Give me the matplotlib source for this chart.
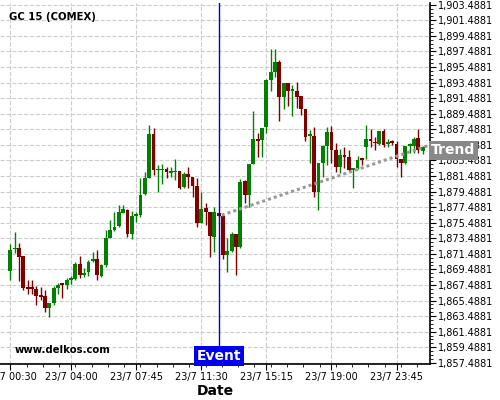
import numpy as np
import matplotlib
matplotlib.use("Agg")
import matplotlib.pyplot as plt
from matplotlib.ticker import FixedLocator, MultipleLocator, FuncFormatter

# 15 minute candles, GC 15 (COMEX)
opens = [1869.29, 1872.08, 1872.21, 1871.18, 1867.19, 1867.10, 1866.94, 1866.07, 1866.03, 1864.53,
         1865.17, 1867.10, 1867.58, 1867.45, 1868.13, 1868.26, 1870.24, 1868.78, 1869.12, 1870.58,
         1870.80, 1868.65, 1869.99, 1873.54, 1874.53, 1875.04, 1876.76, 1877.10, 1874.05, 1876.37,
         1876.46, 1879.16, 1881.26, 1886.88, 1882.21, 1882.21, 1882.38, 1881.90, 1881.99, 1882.12,
         1880.10, 1881.74, 1881.39, 1880.19, 1875.47, 1877.36, 1876.81, 1873.67, 1876.68, 1876.33,
         1871.31, 1871.86, 1874.01, 1872.38, 1880.84, 1879.03, 1883.02, 1886.20, 1886.11, 1887.82,
         1893.83, 1894.90, 1896.11, 1891.68, 1893.49, 1892.42, 1892.42, 1891.78, 1890.10, 1886.63,
         1886.63, 1879.46, 1883.19, 1885.34, 1887.10, 1884.82, 1882.60, 1884.18, 1883.96, 1882.25,
         1882.47, 1883.71, 1885.17, 1886.24, 1885.85, 1885.60, 1887.27, 1885.56, 1885.98, 1885.60,
         1883.63, 1883.11, 1885.34, 1885.34, 1886.37, 1884.73]
highs = [1872.69, 1874.23, 1872.89, 1871.18, 1868.09, 1868.18, 1867.32, 1867.23, 1866.90, 1865.17,
         1867.32, 1867.75, 1867.67, 1868.39, 1868.61, 1870.45, 1871.27, 1869.73, 1870.67, 1871.74,
         1871.95, 1870.24, 1874.53, 1875.82, 1876.85, 1877.75, 1877.75, 1877.19, 1877.01, 1876.88,
         1881.18, 1882.03, 1888.04, 1887.62, 1882.89, 1883.02, 1882.68, 1882.60, 1883.63, 1882.12,
         1882.03, 1882.68, 1881.39, 1881.18, 1879.46, 1878.04, 1876.81, 1877.53, 1876.75, 1876.33,
         1873.46, 1874.31, 1874.01, 1881.05, 1880.96, 1883.02, 1889.84, 1887.05, 1887.62, 1893.92,
         1897.79, 1897.79, 1896.41, 1893.49, 1893.49, 1893.19, 1893.62, 1891.78, 1890.10, 1887.40,
         1887.82, 1883.19, 1885.47, 1887.75, 1887.95, 1885.69, 1884.91, 1885.25, 1884.82, 1882.55,
         1884.05, 1883.71, 1888.04, 1887.57, 1886.54, 1887.27, 1887.53, 1886.24, 1886.11, 1885.98,
         1883.63, 1885.34, 1885.73, 1886.50, 1887.49, 1885.34]
lows = [1868.09, 1871.53, 1867.97, 1866.81, 1866.38, 1866.29, 1864.97, 1865.52, 1864.01, 1863.37,
        1864.88, 1866.29, 1865.87, 1867.03, 1867.67, 1868.09, 1868.39, 1868.52, 1868.61, 1870.45,
        1868.18, 1868.52, 1869.81, 1873.46, 1874.40, 1874.88, 1876.68, 1873.59, 1873.33, 1875.60,
        1876.24, 1879.03, 1881.18, 1881.61, 1879.46, 1880.45, 1881.18, 1881.39, 1880.96, 1879.84,
        1879.90, 1879.90, 1878.78, 1874.88, 1875.39, 1875.17, 1871.09, 1871.74, 1876.20, 1870.76,
        1869.16, 1871.74, 1868.83, 1872.30, 1877.97, 1877.53, 1883.02, 1883.96, 1883.89, 1886.97,
        1892.46, 1894.26, 1888.56, 1890.06, 1890.49, 1889.20, 1890.19, 1889.33, 1885.98, 1883.19,
        1878.81, 1877.10, 1881.39, 1882.90, 1883.19, 1882.03, 1881.90, 1882.47, 1882.16, 1879.90,
        1882.34, 1882.90, 1883.67, 1885.25, 1884.82, 1885.47, 1885.25, 1885.25, 1885.47, 1882.68,
        1881.39, 1883.02, 1884.44, 1884.44, 1884.40, 1884.31]
closes = [1871.95, 1872.21, 1871.09, 1867.10, 1867.03, 1866.97, 1866.07, 1865.95, 1864.53, 1865.17,
          1867.10, 1867.49, 1867.49, 1868.09, 1868.26, 1870.15, 1868.74, 1868.99, 1870.41, 1870.80,
          1868.74, 1869.99, 1873.54, 1874.53, 1874.88, 1876.85, 1877.23, 1874.05, 1876.37, 1876.50,
          1879.03, 1881.18, 1886.88, 1882.25, 1882.32, 1882.34, 1882.03, 1882.03, 1882.12, 1879.97,
          1881.74, 1881.39, 1880.23, 1875.47, 1877.23, 1876.81, 1873.76, 1876.85, 1876.37, 1871.31,
          1871.83, 1874.01, 1872.38, 1880.75, 1879.03, 1883.02, 1886.20, 1886.02, 1887.62, 1893.83,
          1894.90, 1896.11, 1891.68, 1893.49, 1892.42, 1892.55, 1891.68, 1890.10, 1886.54, 1886.76,
          1879.46, 1883.19, 1885.34, 1887.10, 1884.82, 1882.60, 1884.18, 1883.96, 1882.25, 1882.55,
          1883.54, 1883.54, 1886.24, 1885.98, 1885.69, 1887.27, 1885.47, 1885.89, 1885.76, 1883.63,
          1883.11, 1885.34, 1885.47, 1886.20, 1884.82, 1885.17]

tick_idx = [0, 14, 29, 44, 59, 74, 89]
tick_labels = ["23/7 00:30", "23/7 04:00", "23/7 07:45", "23/7 11:30",
               "23/7 15:15", "23/7 19:00", "23/7 23:45"]

event_idx = 48.1
trend_start = (48.7, 1876.46)
trend_end = (96.7, 1885.47)

# --- figure ---
fig = plt.figure(figsize=(5, 4), dpi=100)
ax = fig.add_axes([0.0, 0.09, 0.86, 0.9025])

x = np.arange(len(opens))
o = np.array(opens); c = np.array(closes)
h = np.array(highs); l = np.array(lows)
up = c >= o
cols = np.where(up, "#008000", "#800000")

ax.vlines(x, l, h, colors=cols, linewidth=1.0, zorder=3)
body_lo = np.minimum(o, c)
body_h = np.maximum(np.abs(c - o), 0.2)
ax.bar(x, body_h, bottom=body_lo, width=0.88, color=cols, linewidth=0, zorder=4)

# trend line
ax.plot([trend_start[0], trend_end[0]], [trend_start[1], trend_end[1]],
        color="#999999", linewidth=2.2, linestyle=(0, (1, 1)), zorder=5)

# event line
ax.axvline(event_idx, color="#0000cc", linewidth=1.0, zorder=6)
ax.text(event_idx, 1857.45, "Event", color="white", fontsize=10, fontweight="bold",
        ha="center", va="bottom", zorder=7,
        bbox=dict(boxstyle="square,pad=0.2", facecolor="#0000ee", edgecolor="none"))

ax.text(trend_end[0] + 0.3, trend_end[1] - 0.7, "Trend", color="white", fontsize=10,
        fontweight="bold", ha="left", va="center", zorder=7, clip_on=False,
        bbox=dict(boxstyle="square,pad=0.2", facecolor="#888888", edgecolor="none"))

ax.text(0.02, 0.975, "GC 15 (COMEX)", transform=ax.transAxes, fontsize=7.3,
        fontweight="bold", ha="left", va="top")
ax.text(0.035, 0.025, "www.delkos.com", transform=ax.transAxes, fontsize=7.3,
        fontweight="bold", ha="left", va="bottom")

ax.set_xlim(-2.37, 96.7)
ax.set_ylim(1857.33, 1903.72)

ax.yaxis.tick_right()
ax.yaxis.set_major_locator(FixedLocator([1857.4881 + 2 * k for k in range(24)]))
ax.yaxis.set_minor_locator(FixedLocator([1857.4881 + 0.5 * k for k in range(93)]))
ax.yaxis.set_major_formatter(FuncFormatter(lambda v, p: f"{v:,.4f}"))
ax.xaxis.set_major_locator(FixedLocator(tick_idx))
ax.set_xticklabels(tick_labels)
ax.xaxis.set_minor_locator(MultipleLocator(3.75))
ax.tick_params(axis="both", labelsize=7, length=4, width=0.8, pad=2)
ax.tick_params(axis="both", which="minor", length=2, width=0.6)

ax.grid(True, which="major", color="#cccccc", linestyle="--", linewidth=0.8)
ax.set_axisbelow(True)
for s in ["left", "top"]:
    ax.spines[s].set_visible(False)
ax.spines["right"].set_linewidth(1.2)
ax.spines["bottom"].set_linewidth(1.2)

ax.set_xlabel("Date", fontsize=10, fontweight="bold", labelpad=1)

fig.savefig("out.png", dpi=100)
